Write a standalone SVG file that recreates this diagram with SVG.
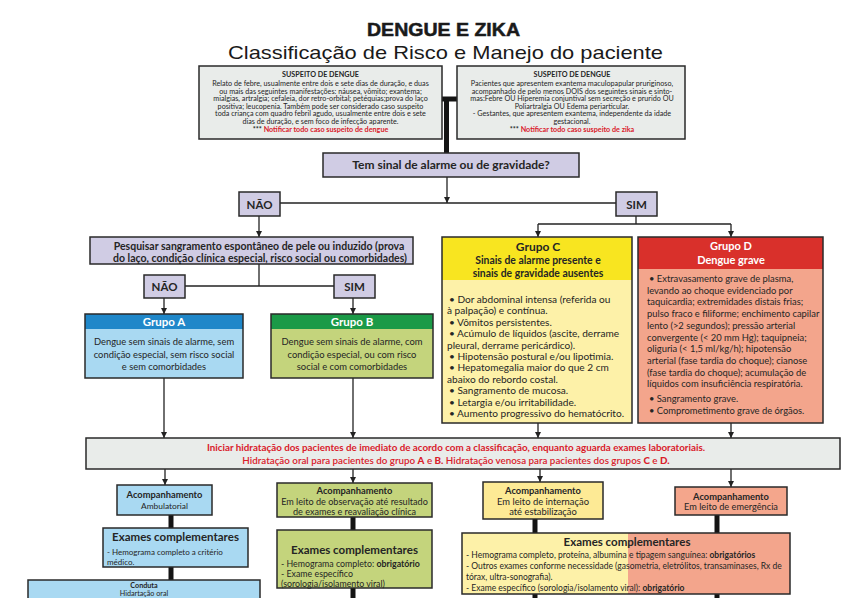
<svg xmlns="http://www.w3.org/2000/svg" width="854" height="598" viewBox="0 0 854 598">
<defs>
<marker id="ah" viewBox="0 0 10 10" refX="10" refY="5" markerWidth="6" markerHeight="6" markerUnits="userSpaceOnUse" orient="auto"><path d="M0,0 L10,5 L0,10 z" fill="#222"/></marker>
<style>
.bx{stroke:#2a2a2a;stroke-width:1.5}
.gray{fill:#e9ecea}
.lav{fill:#d0cce4}
.t{font-family:Lato,"Liberation Sans",sans-serif;fill:#252525}
.b{font-weight:bold}
.c{text-anchor:middle}
.red{fill:#d9202a}
.w{fill:#ffffff}
.ln{stroke:#222;stroke-width:1.3;fill:none}
.arr{stroke:#222;stroke-width:1.3;fill:none;marker-end:url(#ah)}
.thk{stroke:#141414;stroke-width:5;fill:none}
.s7{font-size:7.2px}
.s8{font-size:8px}
.sc{font-size:10.1px}
.sd{font-size:9.4px}
</style>
</defs>
<rect width="854" height="598" fill="#ffffff"/>

<g id="title">
<text x="443.5" y="36" class="c" font-family="'Liberation Sans',Arial,sans-serif" font-weight="bold" font-size="18" fill="#1a1a1a" stroke="#1a1a1a" stroke-width="0.5" textLength="153" lengthAdjust="spacingAndGlyphs">DENGUE E ZIKA</text>
<text x="445.5" y="59" class="c" font-family="'Liberation Sans',Arial,sans-serif" font-size="19" fill="#1a1a1a" textLength="435" lengthAdjust="spacingAndGlyphs">Classificação de Risco e Manejo do paciente</text>
</g>

<g id="connectors">
<line class="thk" x1="441" y1="99" x2="458" y2="99"/>
<line class="thk" x1="446.5" y1="99" x2="446.5" y2="154"/>
<line class="arr" x1="447" y1="177" x2="447" y2="203"/>
<line class="ln" x1="280" y1="203" x2="616" y2="203"/>
<line class="arr" x1="259" y1="216" x2="259" y2="237"/>
<line class="ln" x1="636" y1="216" x2="636" y2="224"/>
<line class="ln" x1="538" y1="224" x2="731" y2="224"/>
<line class="arr" x1="538" y1="224" x2="538" y2="237"/>
<line class="arr" x1="731" y1="224" x2="731" y2="237"/>
<line class="ln" x1="259" y1="264" x2="259" y2="286"/>
<line class="ln" x1="185" y1="286" x2="334" y2="286"/>
<line class="arr" x1="164" y1="298" x2="164" y2="314"/>
<line class="arr" x1="353" y1="298" x2="353" y2="314"/>
<line class="arr" x1="164" y1="378" x2="164" y2="438"/>
<line class="arr" x1="353" y1="378" x2="353" y2="438"/>
<line class="arr" x1="538" y1="423" x2="538" y2="438"/>
<line class="arr" x1="731" y1="423" x2="731" y2="438"/>
<line class="arr" x1="165" y1="469" x2="165" y2="485"/>
<line class="arr" x1="353" y1="469" x2="353" y2="483"/>
<line class="arr" x1="540" y1="469" x2="540" y2="482"/>
<line class="arr" x1="731" y1="469" x2="731" y2="487"/>
<line class="thk" x1="171" y1="515" x2="171" y2="528"/>
<line class="thk" x1="171" y1="567" x2="171" y2="580"/>
<line class="thk" x1="353" y1="517" x2="353" y2="530"/>
<line class="thk" x1="353" y1="588" x2="353" y2="600"/>
<line class="thk" x1="535" y1="519" x2="535" y2="533"/>
<line class="thk" x1="717" y1="515" x2="717" y2="533"/>
<line class="thk" x1="535" y1="594" x2="535" y2="600"/>
<line class="thk" x1="717" y1="594" x2="717" y2="600"/>
</g>

<g id="suspeito-dengue">
<rect class="bx gray" x="199" y="66" width="243" height="73"/>
<text class="t b c s7" x="320.5" y="77">SUSPEITO DE DENGUE</text>
<text class="t c s7" x="320.5" y="86">Relato de febre, usualmente entre dois e sete dias de duração, e duas</text>
<text class="t c s7" x="320.5" y="93.5">ou mais das seguintes manifestações: náusea, vômito; exantema;</text>
<text class="t c s7" x="320.5" y="101">mialgias, artralgia; cefaleia, dor retro-orbital; petéquias;prova do laço</text>
<text class="t c s7" x="320.5" y="108.5">positiva; leucopenia. Também pode ser considerado caso suspeito</text>
<text class="t c s7" x="320.5" y="116">toda criança com quadro febril agudo, usualmente entre dois e sete</text>
<text class="t c s7" x="320.5" y="123.5">dias de duração, e sem foco de infecção aparente.</text>
<text class="t b c s7" x="320.5" y="132">*** <tspan class="red">Notificar todo caso suspeito de dengue</tspan></text>
</g>

<g id="suspeito-zika">
<rect class="bx gray" x="457" y="66" width="228" height="73"/>
<text class="t b c s7" x="572" y="77">SUSPEITO DE DENGUE</text>
<text class="t c s7" x="572" y="86">Pacientes que apresentem exantema maculopapular pruriginoso,</text>
<text class="t c s7" x="572" y="93.5">acompanhado de pelo menos DOIS dos seguintes sinais e sinto-</text>
<text class="t c s7" x="572" y="101">mas:Febre OU Hiperemia conjuntival sem secreção e prurido OU</text>
<text class="t c s7" x="572" y="108.5">Poliartralgia OU Edema periarticular.</text>
<text class="t c s7" x="572" y="116">- Gestantes, que apresentem exantema, independente da idade</text>
<text class="t c s7" x="572" y="123.5">gestacional.</text>
<text class="t b c s7" x="572" y="132">*** <tspan class="red">Notificar todo caso suspeito de zika</tspan></text>
</g>

<g id="tem-sinal">
<rect class="bx lav" x="323" y="153" width="256" height="24"/>
<text class="t b c" font-size="12" x="451" y="169">Tem sinal de alarme ou de gravidade?</text>
</g>

<g id="nao1">
<rect class="bx lav" x="239" y="192" width="41" height="24"/>
<text class="t b c" font-size="11.5" x="259.5" y="208.5">NÃO</text>
</g>
<g id="sim1">
<rect class="bx lav" x="616" y="192" width="41" height="24"/>
<text class="t b c" font-size="11.5" x="636.5" y="208.5">SIM</text>
</g>

<g id="pesquisar">
<rect class="bx lav" x="90" y="237" width="323" height="27"/>
<text class="t b c" font-size="10.5" x="259" y="249.5">Pesquisar sangramento espontâneo de pele ou induzido (prova</text>
<text class="t b c" font-size="10.5" x="260" y="261.5">do laço, condição clínica especial, risco social ou comorbidades)</text>
</g>

<g id="nao2">
<rect class="bx lav" x="144" y="275" width="41" height="23"/>
<text class="t b c" font-size="11.5" x="164.5" y="291">NÃO</text>
</g>
<g id="sim2">
<rect class="bx lav" x="334" y="275" width="41" height="23"/>
<text class="t b c" font-size="11.5" x="354.5" y="291">SIM</text>
</g>

<g id="grupo-a">
<rect x="85" y="314" width="158" height="64" fill="#a9d9f2"/>
<rect x="85" y="314" width="158" height="15" fill="#1f87c9"/>
<rect class="bx" x="85" y="314" width="158" height="64" fill="none"/>
<text class="t b c w" font-size="11.5" x="164" y="326">Grupo A</text>
<text class="t c" font-size="9.4" x="164" y="345">Dengue sem sinais de alarme, sem</text>
<text class="t c" font-size="9.4" x="164" y="357.5">condição especial, sem risco social</text>
<text class="t c" font-size="9.4" x="164" y="369.5">e sem comorbidades</text>
</g>

<g id="grupo-b">
<rect x="271" y="314" width="162" height="64" fill="#c4d47c"/>
<rect x="271" y="314" width="162" height="15" fill="#1b9a47"/>
<rect class="bx" x="271" y="314" width="162" height="64" fill="none"/>
<text class="t b c w" font-size="11.5" x="352" y="326">Grupo B</text>
<text class="t c" font-size="9.4" x="352" y="345">Dengue sem sinais de alarme, com</text>
<text class="t c" font-size="9.4" x="352" y="357.5">condição especial, ou com risco</text>
<text class="t c" font-size="9.4" x="352" y="369.5">social e com comorbidades</text>
</g>

<g id="grupo-c">
<rect x="442" y="237" width="190" height="186" fill="#fdf1a8"/>
<rect x="442" y="237" width="190" height="43" fill="#f8e520"/>
<rect class="bx" x="442" y="237" width="190" height="186" fill="none"/>
<text class="t b c" font-size="12" x="538" y="251">Grupo C</text>
<text class="t b c" font-size="10.4" x="538" y="264">Sinais de alarme presente e</text>
<text class="t b c" font-size="10.4" x="538" y="276.5">sinais de gravidade ausentes</text>
<text class="t sc" x="449" y="303">• Dor abdominal intensa (referida ou</text>
<text class="t sc" x="447" y="314.4">à palpação) e contínua.</text>
<text class="t sc" x="449" y="325.8">• Vômitos persistentes.</text>
<text class="t sc" x="449" y="337.2">• Acúmulo de líquidos (ascite, derrame</text>
<text class="t sc" x="447" y="348.6">pleural, derrame pericárdico).</text>
<text class="t sc" x="449" y="360">• Hipotensão postural e/ou lipotimia.</text>
<text class="t sc" x="449" y="371.4">• Hepatomegalia maior do que 2 cm</text>
<text class="t sc" x="447" y="382.8">abaixo do rebordo costal.</text>
<text class="t sc" x="449" y="394.2">• Sangramento de mucosa.</text>
<text class="t sc" x="449" y="405.6">• Letargia e/ou irritabilidade.</text>
<text class="t sc" x="449" y="417">• Aumento progressivo do hematócrito.</text>
</g>

<g id="grupo-d">
<rect x="638" y="237" width="185" height="186" fill="#f3a58c"/>
<rect x="638" y="237" width="185" height="32" fill="#d9302b"/>
<rect class="bx" x="638" y="237" width="185" height="186" fill="none"/>
<text class="t b c w" font-size="11" x="731" y="250">Grupo D</text>
<text class="t b c w" font-size="11" x="731" y="264">Dengue grave</text>
<text class="t sd" x="649" y="282">• Extravasamento grave de plasma,</text>
<text class="t sd" x="647" y="293.7">levando ao choque evidenciado por</text>
<text class="t sd" x="647" y="305.4">taquicardia; extremidades distais frias;</text>
<text class="t sd" x="647" y="317.1">pulso fraco e filiforme; enchimento capilar</text>
<text class="t sd" x="647" y="328.8">lento (&gt;2 segundos); pressão arterial</text>
<text class="t sd" x="647" y="340.5">convergente (&lt; 20 mm Hg); taquipneia;</text>
<text class="t sd" x="647" y="352.2">oliguria (&lt; 1,5 ml/kg/h); hipotensão</text>
<text class="t sd" x="647" y="363.9">arterial (fase tardia do choque); cianose</text>
<text class="t sd" x="647" y="375.6">(fase tardia do choque); acumulação de</text>
<text class="t sd" x="647" y="387.3">líquidos com insuficiência respiratória.</text>
<text class="t sd" x="649" y="401.5">• Sangramento grave.</text>
<text class="t sd" x="649" y="414">• Comprometimento grave de órgãos.</text>
</g>

<g id="hidratacao">
<rect class="bx gray" x="86" y="438" width="754" height="31"/>
<text class="t b c red" font-size="9.8" x="456" y="451">Iniciar hidratação dos pacientes de imediato de acordo com a classificação, enquanto aguarda exames laboratoriais.</text>
<text class="t c red" font-size="9.8" font-weight="600" x="456" y="464">Hidratação oral para pacientes do grupo <tspan font-weight="900">A</tspan> e <tspan font-weight="900">B.</tspan> Hidratação venosa para pacientes dos grupos <tspan font-weight="900">C</tspan> e <tspan font-weight="900">D.</tspan></text>
</g>

<g id="acomp-a">
<rect class="bx" x="117" y="485" width="95" height="30" fill="#a9d9f2"/>
<text class="t b c" font-size="9.3" x="164.5" y="497.5">Acompanhamento</text>
<text class="t c" font-size="8.4" x="164.5" y="509">Ambulatorial</text>
</g>
<g id="exames-a">
<rect class="bx" x="103" y="528" width="145" height="39" fill="#a9d9f2"/>
<text class="t b c" font-size="11.5" x="175.5" y="541">Exames complementares</text>
<text class="t s8" x="107" y="555">- Hemograma completo a critério</text>
<text class="t s8" x="107" y="565">médico.</text>
</g>
<g id="conduta-a">
<rect class="bx" x="28" y="580" width="232" height="26" fill="#a9d9f2"/>
<text class="t b c" font-size="7.2" x="144" y="588">Conduta</text>
<text class="t c" font-size="7.2" x="144" y="595.5">Hidartação oral</text>
</g>

<g id="acomp-b">
<rect class="bx" x="277" y="483" width="155" height="34" fill="#c4d47c"/>
<text class="t b c" font-size="9.3" x="354.5" y="494">Acompanhamento</text>
<text class="t c" font-size="9.1" x="354.5" y="504.5">Em leito de observação até resultado</text>
<text class="t c" font-size="9.1" x="354.5" y="514.5">de exames e reavaliação clínica</text>
</g>
<g id="exames-b">
<rect class="bx" x="277" y="530" width="155" height="58" fill="#c4d47c"/>
<text class="t b c" font-size="11.5" x="354.5" y="553.5">Exames complementares</text>
<text class="t" font-size="8.8" x="281" y="567">- Hemograma completo: <tspan class="b">obrigatório</tspan></text>
<text class="t" font-size="8.8" x="281" y="577">- Exame específico</text>
<text class="t" font-size="8.8" x="281" y="587">(sorologia/isolamento viral)</text>
</g>

<g id="acomp-c">
<rect class="bx" x="483" y="482" width="120" height="37" fill="#fdea95"/>
<text class="t b c" font-size="9.3" x="543" y="494">Acompanhamento</text>
<text class="t c" font-size="9.4" x="543" y="505">Em leito de internação</text>
<text class="t c" font-size="9.4" x="543" y="515">até estabilização</text>
</g>
<g id="acomp-d">
<rect class="bx" x="675" y="487" width="112" height="28" fill="#f4a68c"/>
<text class="t b c" font-size="9.3" x="731" y="499.5">Acompanhamento</text>
<text class="t c" font-size="9.2" x="731" y="510">Em leito de emergência</text>
</g>

<g id="exames-cd">
<rect x="462" y="533" width="166" height="61" fill="#fdf1a8"/>
<rect x="628" y="533" width="162" height="61" fill="#f3a58c"/>
<rect class="bx" x="462" y="533" width="328" height="61" fill="none"/>
<text class="t b c" font-size="11.5" x="627" y="546">Exames complementares</text>
<text class="t" font-size="8.5" x="466" y="558">- Hemograma completo, proteína, albumina e tipagem sanguínea: <tspan class="b">obrigatórios</tspan></text>
<text class="t" font-size="8.5" x="466" y="569">- Outros exames conforme necessidade (gasometria, eletrólitos, transaminases, Rx de</text>
<text class="t" font-size="8.5" x="466" y="579.5">tórax, ultra-sonografia).</text>
<text class="t" font-size="8.5" x="466" y="590.5">- Exame específico (sorologia/isolamento viral): <tspan class="b">obrigatório</tspan></text>
</g>
</svg>
